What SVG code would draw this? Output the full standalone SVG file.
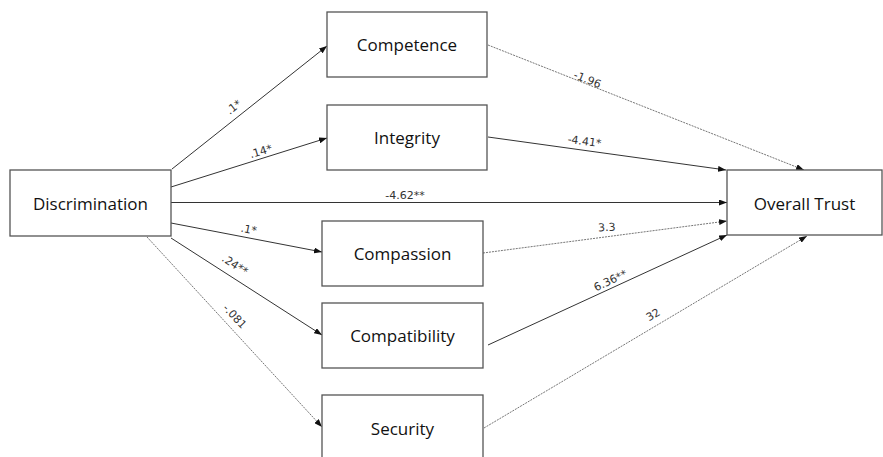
<svg xmlns="http://www.w3.org/2000/svg" width="883" height="457" viewBox="0 0 883 457">
<style>
.box{fill:#fff;stroke:#555;stroke-width:1.3}
.lbl{font-family:"Open Sans","Liberation Sans",sans-serif;font-size:17px;fill:#111;text-anchor:middle;dominant-baseline:central}
.e{fill:none;stroke:#333;stroke-width:1}
.d{fill:none;stroke:#666;stroke-width:0.9;stroke-dasharray:2,1}
.el{font-family:"DejaVu Sans","Liberation Sans",sans-serif;font-size:11px;fill:#333;text-anchor:middle}
</style>
<defs>
<marker id="ah" markerWidth="8" markerHeight="6" refX="8" refY="3" orient="auto" markerUnits="userSpaceOnUse">
<path d="M0,0 L8,3 L0,6 Z" fill="#111"/>
</marker>
</defs>
<rect width="883" height="457" fill="#fff"/>
<g id="connectors">
<line class="e" x1="172" y1="169" x2="327" y2="46" marker-end="url(#ah)"/>
<line class="e" x1="171" y1="187" x2="327" y2="138" marker-end="url(#ah)"/>
<line class="e" x1="171" y1="202.5" x2="727" y2="202.5" marker-end="url(#ah)"/>
<line class="e" x1="171" y1="223" x2="322" y2="252" marker-end="url(#ah)"/>
<line class="e" x1="171" y1="238" x2="322" y2="335" marker-end="url(#ah)"/>
<line class="d" x1="147" y1="237" x2="322" y2="427" marker-end="url(#ah)"/>
<line class="d" x1="488" y1="45" x2="804" y2="170" marker-end="url(#ah)"/>
<line class="e" x1="488" y1="137" x2="726" y2="170" marker-end="url(#ah)"/>
<line class="d" x1="483" y1="253" x2="727" y2="221" marker-end="url(#ah)"/>
<line class="e" x1="488" y1="345" x2="727" y2="235" marker-end="url(#ah)"/>
<line class="d" x1="484" y1="428" x2="807" y2="236" marker-end="url(#ah)"/>
<text class="el" transform="translate(236,110) rotate(-38)">.1*</text>
<text class="el" transform="translate(262,155) rotate(-17)">.14*</text>
<text class="el" x="405" y="199">-4.62**</text>
<text class="el" transform="translate(248,233) rotate(11)">.1*</text>
<text class="el" transform="translate(233,268) rotate(33)">.24**</text>
<text class="el" transform="translate(232,319) rotate(47)">-.081</text>
<text class="el" transform="translate(586,83) rotate(21.6)">-1.96</text>
<text class="el" transform="translate(584,145) rotate(8)">-4.41*</text>
<text class="el" transform="translate(607,231) rotate(-3)">3.3</text>
<text class="el" transform="translate(612,284) rotate(-25)">6.36**</text>
<text class="el" transform="translate(655,318) rotate(-31)">32</text>
</g>
<g id="discrimination"><rect class="box" x="10" y="170" width="161" height="66"/><text class="lbl" x="90.5" y="203">Discrimination</text></g>
<g id="competence"><rect class="box" x="327" y="12" width="160" height="65"/><text class="lbl" x="407" y="44.5">Competence</text></g>
<g id="integrity"><rect class="box" x="327" y="105" width="160" height="65"/><text class="lbl" x="407" y="137.5">Integrity</text></g>
<g id="compassion"><rect class="box" x="322" y="221" width="161" height="65"/><text class="lbl" x="402.5" y="253.5">Compassion</text></g>
<g id="compatibility"><rect class="box" x="322" y="303" width="161" height="65"/><text class="lbl" x="402.5" y="335.5">Compatibility</text></g>
<g id="security"><rect class="box" x="322" y="395" width="161" height="70"/><text class="lbl" x="402.5" y="428">Security</text></g>
<g id="overall-trust"><rect class="box" x="727" y="170" width="155" height="65"/><text class="lbl" x="804.5" y="203">Overall Trust</text></g>
</svg>
